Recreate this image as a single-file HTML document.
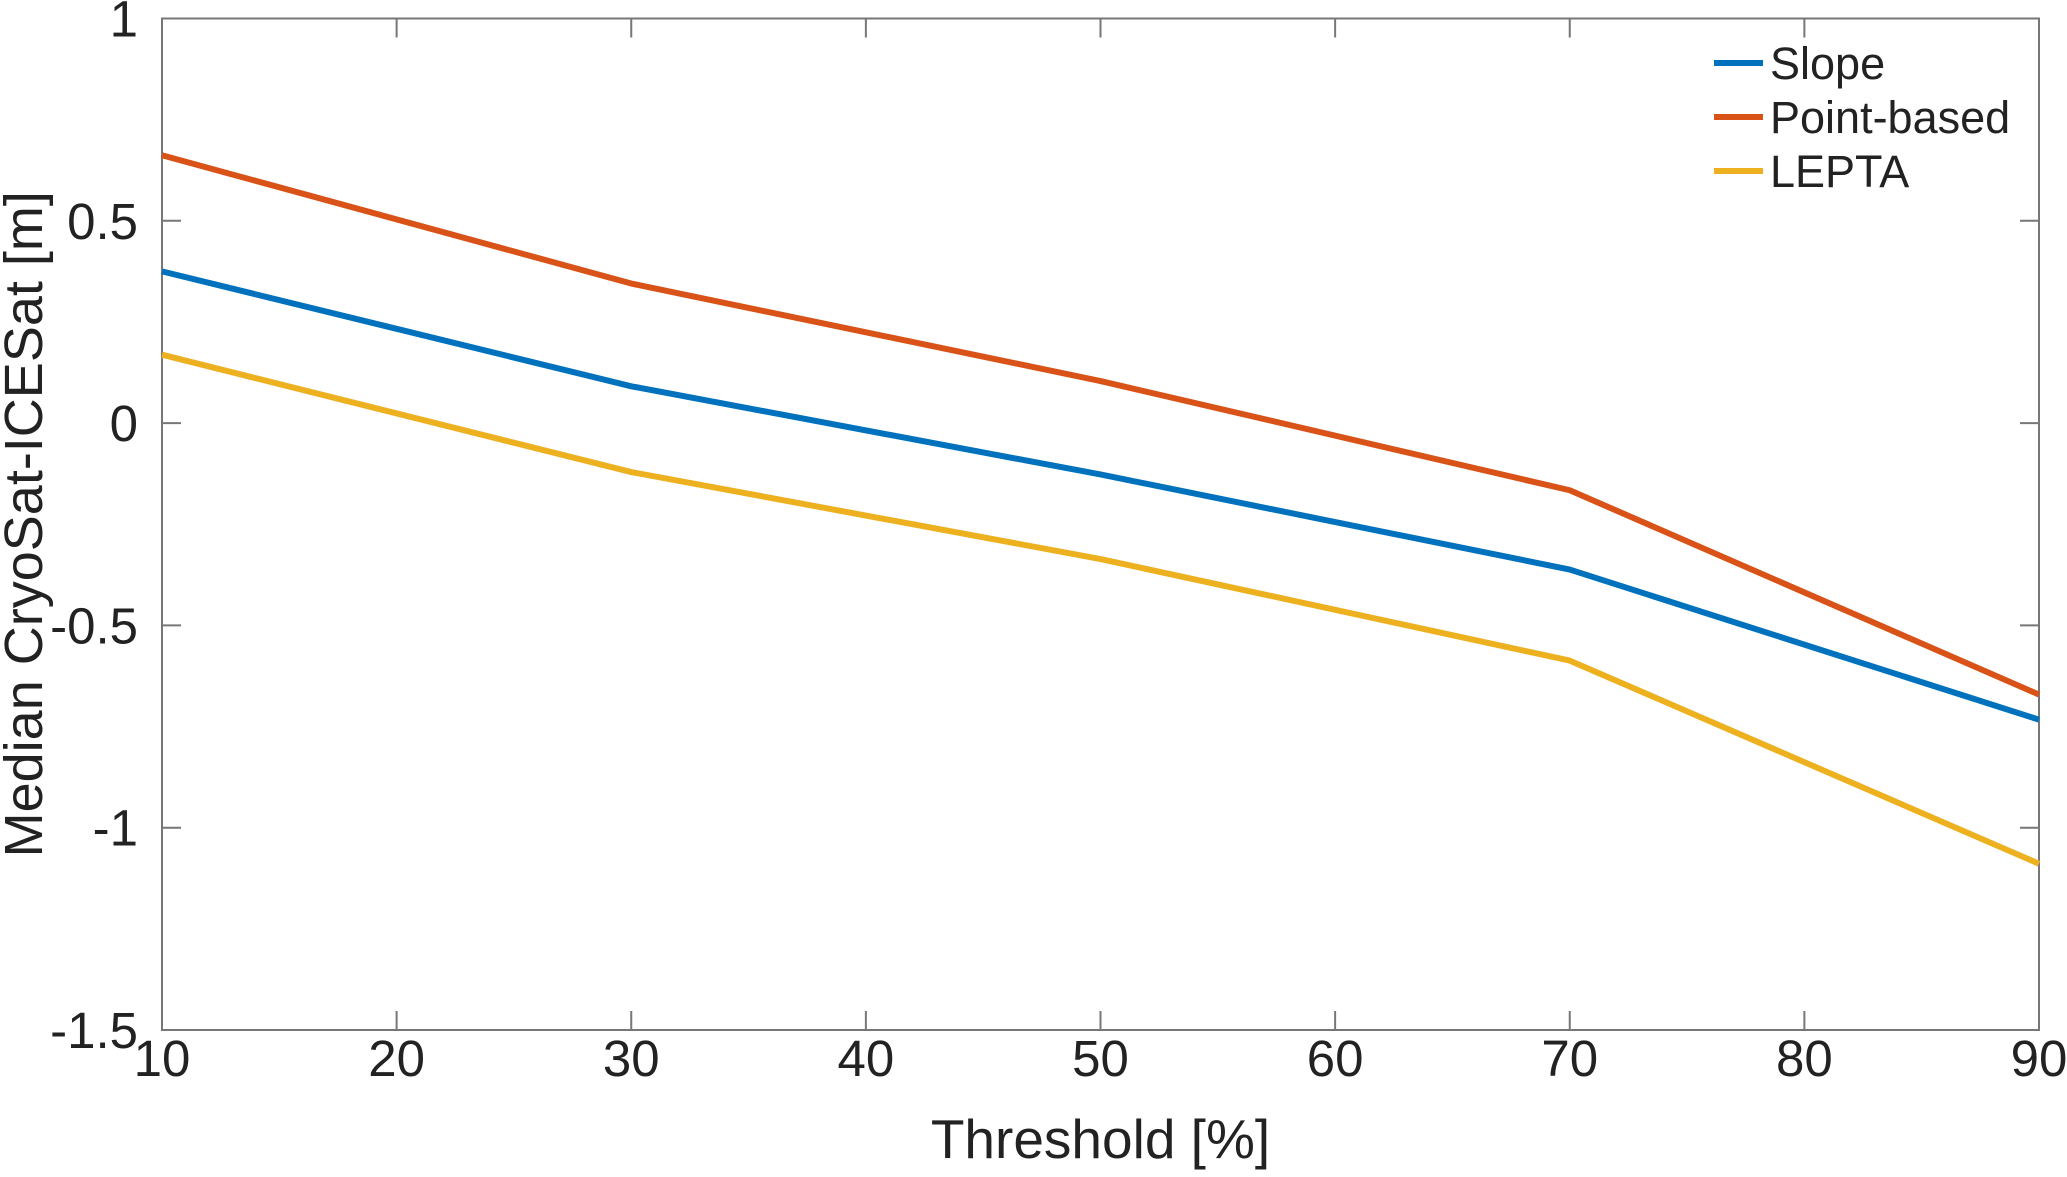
<!DOCTYPE html>
<html><head><meta charset="utf-8"><style>
html,body{margin:0;padding:0;background:#fff;}
svg text{font-family:"Liberation Sans",sans-serif;fill:#222;}
</style></head><body>
<svg id="chart" width="2067" height="1172" viewBox="0 0 2067 1172" xmlns="http://www.w3.org/2000/svg">
<g id="axes"></g>
<g id="series"></g>
<g id="legend"></g>
</svg>
<script>
const categories = [10, 30, 50, 70, 90];
const slopeValues = [0.375, 0.091, -0.127, -0.362, -0.733];
const pointValues = [0.662, 0.345, 0.104, -0.166, -0.671];
const leptaValues = [0.169, -0.121, -0.336, -0.587, -1.089];
const xTicks = [10, 20, 30, 40, 50, 60, 70, 80, 90];
const yTicks = [1, 0.5, 0, -0.5, -1, -1.5];
const yTickLabels = ["1", "0.5", "0", "-0.5", "-1", "-1.5"];
const seriesNames = ["Slope", "Point-based", "LEPTA"];

const L=162,R=2039,T=18.5,B=1030;
const xs=v=>L+(v-10)/80*(R-L);
const ys=v=>T+(1-v)/2.5*(B-T);
const NS="http://www.w3.org/2000/svg";
function mk(tag,attrs,parent){const e=document.createElementNS(NS,tag);for(const k in attrs)e.setAttribute(k,attrs[k]);parent.appendChild(e);return e;}
const axes=document.getElementById('axes');
const box=mk('rect',{x:L,y:T,width:R-L,height:B-T,fill:'none',stroke:'#777',"stroke-width":2},axes);


xTicks.forEach(t=>{
  const x=xs(t);
  const tk=mk('path',{d:`M${x} ${B}v-19M${x} ${T}v19`,stroke:'#777',"stroke-width":2},axes);
  
  
  const lb=mk('text',{x:x,y:B+46,"text-anchor":'middle',"font-size":51},axes);
  lb.textContent=t;
  
  
});
yTicks.forEach((t,i)=>{
  const y=ys(t);
  const tk=mk('path',{d:`M${L} ${y}h19M${R} ${y}h-19`,stroke:'#777',"stroke-width":2},axes);
  
  
  const lb=mk('text',{x:L-24,y:y+18,"text-anchor":'end',"font-size":51},axes);
  lb.textContent=yTickLabels[i];
  
  
});
const xl=mk('text',{x:(L+R)/2,y:1158,"text-anchor":'middle',"font-size":55},axes);
xl.textContent='Threshold [%]';


const yl=mk('text',{x:0,y:0,"text-anchor":'middle',"font-size":54,transform:`translate(42 ${(T+B)/2}) rotate(-90)`},axes);
yl.textContent='Median CryoSat-ICESat [m]';



const colors=['#0072BD','#D95319','#EDB120'];
const all=[slopeValues,pointValues,leptaValues];
const sg=document.getElementById('series');
all.forEach((vals,i)=>{
  const p=mk('polyline',{points:vals.map((v,j)=>xs(categories[j])+','+ys(v)).join(' '),fill:'none',stroke:colors[i],"stroke-width":6,"stroke-linejoin":'round'},sg);
  
  
});
const lg=document.getElementById('legend');
seriesNames.forEach((n,i)=>{
  const y=63+i*54;
  const ln=mk('line',{x1:1714,x2:1763,y1:y,y2:y,stroke:colors[i],"stroke-width":6},lg);
  
  
  const tx=mk('text',{x:1770,y:y+16,"font-size":45},lg);
  tx.textContent=n;
  
  
});
</script>
</body></html>
